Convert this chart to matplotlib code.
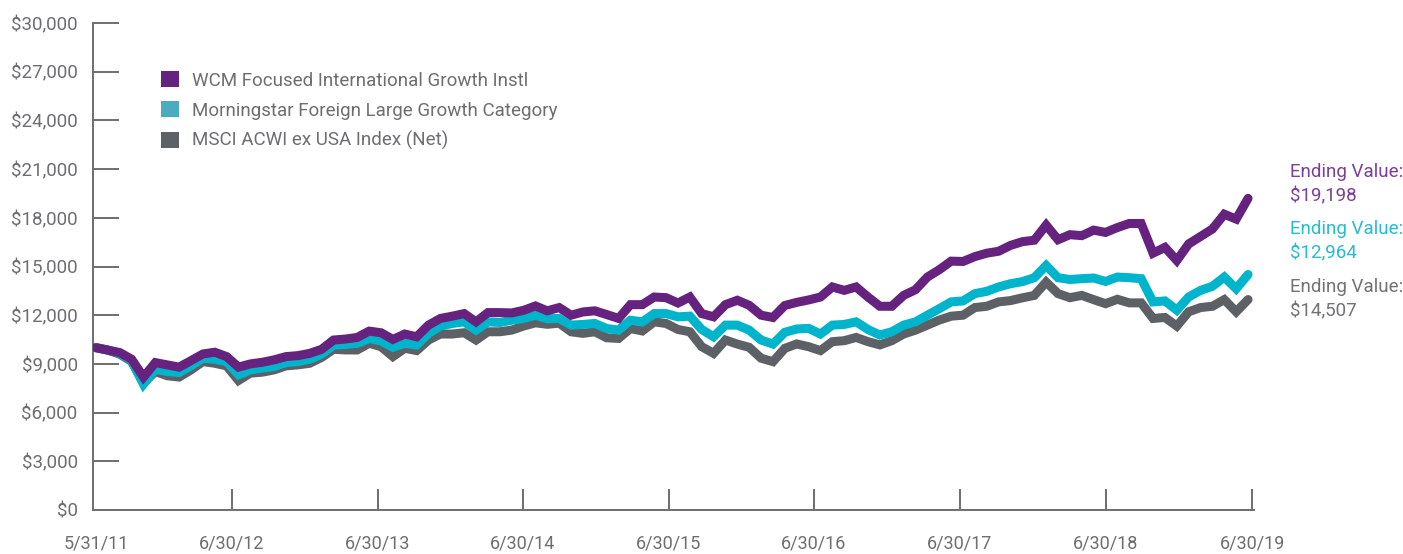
import numpy as np
import matplotlib
matplotlib.use("Agg")
import matplotlib.pyplot as plt
from matplotlib.patches import Patch

# ---------------- data ----------------
series_names = ["WCM Focused International Growth Instl",
                "Morningstar Foreign Large Growth Category",
                "MSCI ACWI ex USA Index (Net)"]

wcm = [10000, 9850, 9700, 9290, 8190, 9080, 8940, 8800, 9200, 9610, 9720, 9450, 8800, 9000, 9100, 9250, 9450, 9510, 9650, 9900,
       10470, 10530, 10630, 11020, 10920, 10510, 10840, 10670, 11390, 11800,
       11940, 12100, 11590, 12160, 12160, 12140, 12300, 12570, 12270, 12470,
       12000, 12200, 12270, 12040, 11800, 12650, 12650, 13120, 13080, 12750,
       13120, 12100, 11900, 12650, 12920, 12610, 12000, 11860, 12600, 12790,
       12940, 13120, 13740, 13530, 13740, 13120, 12550, 12550, 13220, 13570,
       14350, 14800, 15330, 15310, 15610, 15820, 15940, 16300, 16530, 16620,
       17550, 16650, 16960, 16900, 17240, 17100, 17400, 17650, 17650, 15820,
       16180, 15370, 16390, 16850, 17310, 18220, 17920, 19198]

morningstar = [10000, 9850, 9650, 9200, 7750, 8670, 8530, 8470, 8880, 9350, 9290, 9140, 8330, 8630, 8740, 8840, 9080, 9140, 9290, 9600,
               10150, 10200, 10270, 10570, 10410, 10020, 10270, 10160, 10880, 11330,
               11490, 11590, 11080, 11590, 11550, 11690, 11800, 12000, 11780, 11800,
               11390, 11430, 11490, 11180, 11080, 11690, 11590, 12100, 12100, 11900,
               11940, 11120, 10670, 11390, 11390, 11080, 10470, 10220, 10950, 11150,
               11190, 10840, 11390, 11430, 11590, 11120, 10780, 10980, 11390, 11590,
               12000, 12400, 12820, 12880, 13330, 13470, 13740, 13940, 14070, 14310,
               15060, 14310, 14200, 14250, 14290, 14080, 14350, 14310, 14250, 12820,
               12880, 12310, 13120, 13530, 13780, 14350, 13630, 14507]

msci = [10000, 9850, 9600, 9150, 7820, 8530, 8270, 8190, 8630, 9140, 9040, 8880, 7980, 8430, 8490, 8630, 8880, 8940, 9040, 9400,
        9900, 9860, 9860, 10270, 10060, 9450, 9960, 9820, 10470, 10840,
        10840, 10920, 10470, 10980, 10980, 11080, 11330, 11530, 11440, 11510,
        10980, 10880, 10980, 10610, 10570, 11180, 11030, 11590, 11490, 11120,
        10980, 10060, 9650, 10470, 10220, 10020, 9350, 9140, 9960, 10230,
        10060, 9820, 10370, 10430, 10630, 10370, 10170, 10430, 10840, 11080,
        11390, 11700, 11940, 12000, 12470, 12550, 12820, 12900, 13070, 13220,
        14040, 13330, 13080, 13220, 12960, 12710, 12980, 12760, 12760, 11800,
        11860, 11330, 12210, 12470, 12550, 12960, 12210, 12964]

x_tick_labels = ["5/31/11", "6/30/12", "6/30/13", "6/30/14", "6/30/15",
                 "6/30/16", "6/30/17", "6/30/18", "6/30/19"]
y_ticks = [0, 3000, 6000, 9000, 12000, 15000, 18000, 21000, 24000, 27000, 30000]

ending_labels = ["Ending Value:\n$19,198", "Ending Value:\n$12,964", "Ending Value:\n$14,507"]

# ---------------- style ----------------
plt.rcParams['font.family'] = ['Roboto', 'DejaVu Sans']
FW = 'normal'
c_purple = "#65237F"
c_teal = "#00B5CB"
c_gray = "#5D6166"
c_axis = "#6D6E71"
c_text = "#6D6E71"

W, H = 1403, 554
fig = plt.figure(figsize=(W / 100, H / 100), dpi=100)
ax = fig.add_axes([93 / W, (H - 510) / H, (1254 - 93) / W, 487 / H])

x = np.arange(len(wcm))
lw = 6.5
ax.plot(x, msci, color=c_gray, lw=lw, solid_capstyle='round', solid_joinstyle='miter', zorder=3)
ax.plot(x, morningstar, color=c_teal, lw=lw, solid_capstyle='round', solid_joinstyle='miter', zorder=4)
ax.plot(x, wcm, color=c_purple, lw=lw, solid_capstyle='round', solid_joinstyle='miter', zorder=5)

ax.set_xlim(-0.25, 97.5)
ax.set_ylim(0, 30000)

# spines
for s in ['top', 'right']:
    ax.spines[s].set_visible(False)
for s in ['left', 'bottom']:
    ax.spines[s].set_color(c_axis)
    ax.spines[s].set_linewidth(1.4)

ax.set_yticks(y_ticks)
ax.set_yticklabels([f"${v:,.0f}" for v in y_ticks], fontsize=13.5, color=c_text, fontweight=FW)
ax.tick_params(axis='y', direction='in', length=19, width=1.4, color=c_axis, pad=11)

x_tick_pos = [0, 11.45, 23.74, 35.94, 48.23, 60.44, 72.73, 85.02, 97.35]
ax.set_xticks(x_tick_pos)
ax.set_xticklabels(x_tick_labels, fontsize=13, color=c_text, fontweight=FW)
ax.tick_params(axis='x', direction='in', length=15, width=1.4, color=c_axis, pad=18)
ax.xaxis.get_major_ticks()[0].tick1line.set_visible(False)

# legend
handles = [Patch(facecolor=c, edgecolor='none') for c in ["#65237F", "#4BACC0", "#5E6166"]]
leg = fig.legend(handles, series_names, loc='upper left',
                 bbox_to_anchor=(161 / W, 1 - 71 / H), frameon=False,
                 handlelength=0.95, handleheight=0.95,
                 handletextpad=0.7, labelspacing=0.62, borderpad=0, borderaxespad=0,
                 prop={'weight': FW, 'size': 13.5})
for t in leg.get_texts():
    t.set_color(c_text)

# ending value labels
end_colors = ["#7B3F98", "#25BCD0", "#707275"]
end_y = [184, 241, 299]
for lab, col, yy in zip(ending_labels, end_colors, end_y):
    fig.text(1290 / W, 1 - yy / H, lab, color=col, fontsize=13.5, fontweight=FW,
             ha='left', va='center', linespacing=1.45)

fig.savefig("out.png", dpi=100)
